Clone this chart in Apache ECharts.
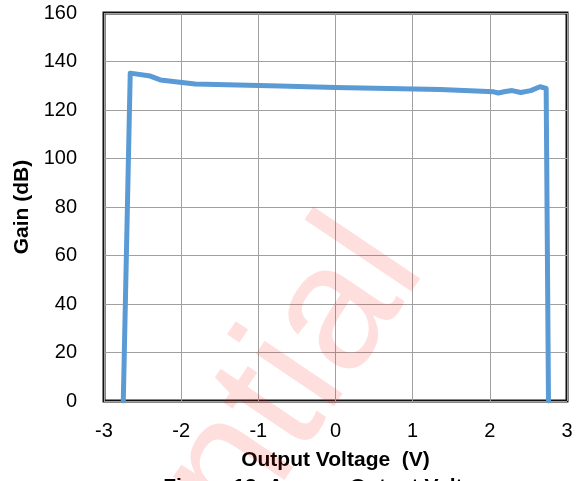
<!DOCTYPE html>
<html>
<head>
<meta charset="utf-8">
<script src="https://cdn.jsdelivr.net/npm/echarts@6/dist/echarts.min.js"></script>
<style>
html,body{margin:0;padding:0;background:#fff;}
#chart{width:577px;height:481px;}
</style>
</head>
<body>
<div id="chart"></div>
<script>
// Data
var voltage = [-2.75, -2.66, -2.40, -2.27, -1.82, -0.72, 0.00, 1.36, 2.05, 2.11, 2.20, 2.29, 2.40, 2.53, 2.65, 2.73, 2.76];
var gain    = [0.0, 135.2, 134.0, 132.4, 130.7, 129.9, 129.3, 128.5, 127.5, 127.0, 127.6, 128.0, 127.2, 128.0, 129.6, 128.9, 0.0];
var xTicks = [-3, -2, -1, 0, 1, 2, 3];
var yTicks = [0, 20, 40, 60, 80, 100, 120, 140, 160];
var xTitle = 'Output Voltage  (V)';
var yTitle = 'Gain (dB)';
var watermark = 'Confidential';

var points = voltage.map(function (v, i) { return [v, gain[i]]; });

var chart = echarts.init(document.getElementById('chart'), null, {renderer: 'canvas'});
var font = 'Arial, "Liberation Sans", sans-serif';

chart.setOption({
  animation: false,
  backgroundColor: '#fff',
  grid: {
    left: 104, right: 10, top: 13, bottom: 80,
    show: true, borderColor: '#111', borderWidth: 3, backgroundColor: 'transparent'
  },
  xAxis: {
    type: 'value',
    min: xTicks[0], max: xTicks[xTicks.length - 1], interval: 1,
    name: xTitle, nameLocation: 'middle', nameGap: 49,
    nameTextStyle: {fontFamily: font, fontSize: 21, fontWeight: 'bold', color: '#000'},
    axisLine: {show: false},
    axisTick: {show: false},
    axisLabel: {fontFamily: font, fontSize: 20, color: '#000', margin: 20},
    splitLine: {show: true, lineStyle: {color: '#a0a0a0', width: 1}}
  },
  yAxis: {
    type: 'value',
    min: yTicks[0], max: yTicks[yTicks.length - 1], interval: 20,
    name: yTitle, nameLocation: 'middle', nameGap: 69, nameRotate: 90,
    nameTextStyle: {fontFamily: font, fontSize: 21, fontWeight: 'bold', color: '#000'},
    axisLine: {show: false},
    axisTick: {show: false},
    axisLabel: {fontFamily: font, fontSize: 20, color: '#000', margin: 27},
    splitLine: {show: true, lineStyle: {color: '#a0a0a0', width: 1}}
  },
  graphic: [
    {
      type: 'text',
      x: 460, y: 291,
      rotation: 56 * Math.PI / 180,
      silent: true,
      z: 50,
      style: {
        text: watermark,
        font: 'normal 178px Arial, "Liberation Sans", sans-serif',
        fill: 'rgba(255,0,0,0.13)',
        align: 'right',
        verticalAlign: 'bottom'
      }
    },
    {
      type: 'text',
      x: 331, y: 476,
      silent: true,
      style: {
        text: '{a|Figure 13. A}{s|OL}{a| vs. Output Voltage}',
        align: 'center',
        verticalAlign: 'top',
        rich: {
          a: {fontFamily: font, fontSize: 21, fontWeight: 'bold', fill: '#000', color: '#000'},
          s: {fontFamily: font, fontSize: 14, fontWeight: 'bold', fill: '#000', color: '#000', verticalAlign: 'bottom', padding: [8, 6, 0, 0]}
        }
      }
    }
  ],
  series: [{
    type: 'line',
    data: points,
    showSymbol: false,
    symbol: 'none',
    smooth: false,
    lineStyle: {color: '#5B9BD5', width: 5, cap: 'round', join: 'round'},
    z: 3
  }]
});
</script>
</body>
</html>
